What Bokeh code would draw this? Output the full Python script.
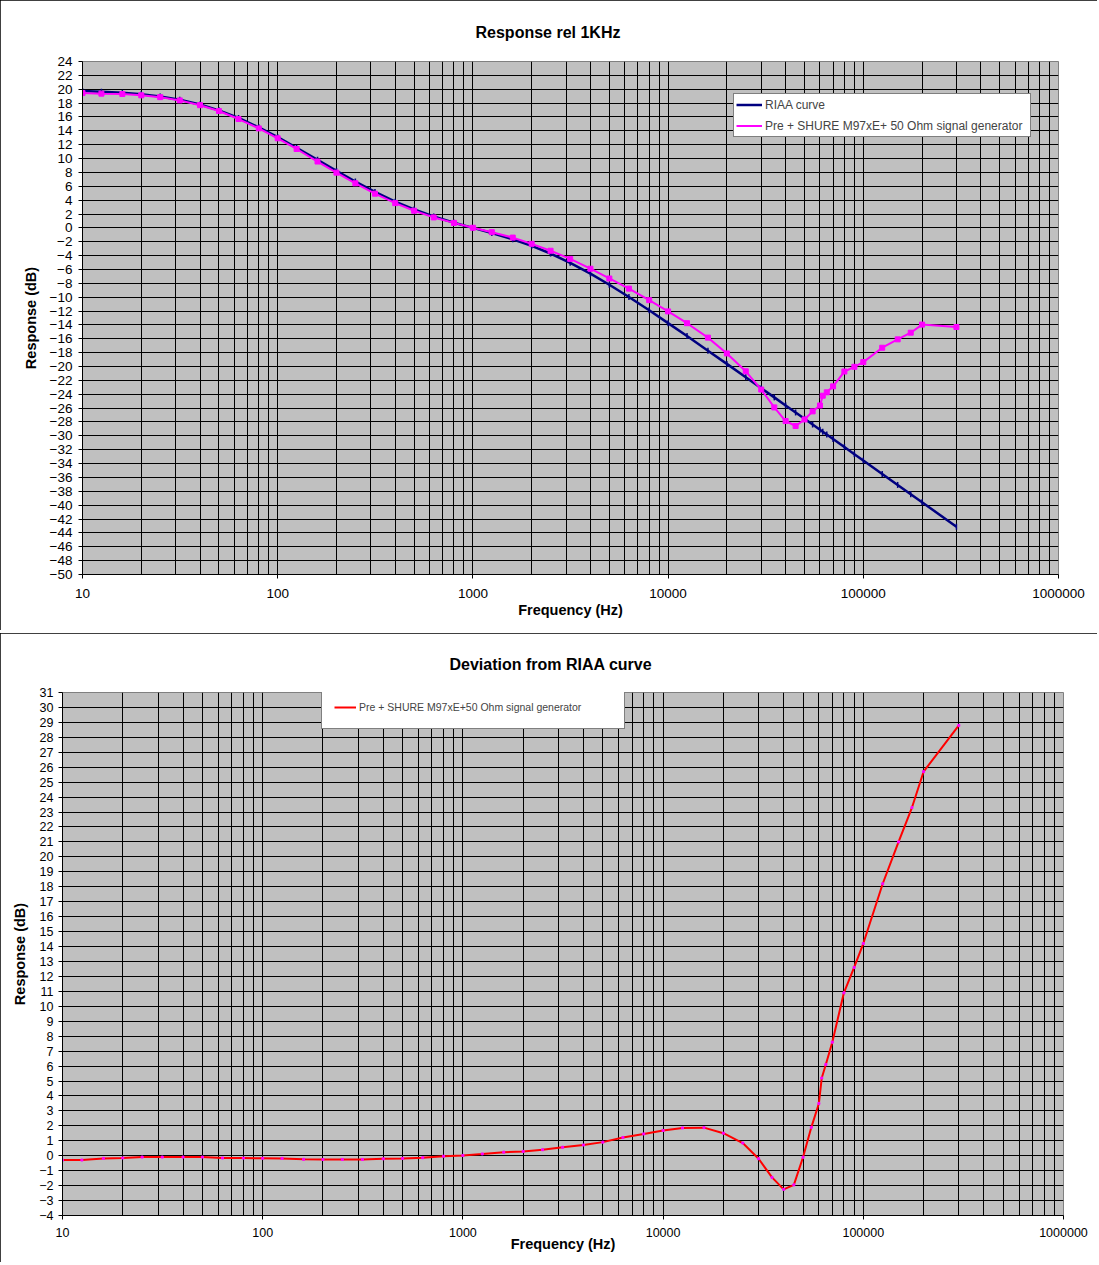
import math
from bokeh.plotting import figure
from bokeh.models import Range1d, FixedTicker, Legend, LegendItem
from bokeh.layouts import column
from bokeh.embed import file_html
from bokeh.resources import INLINE

# ---------------- data ----------------
freq_hz = [10, 12.5, 16, 20, 25, 31.5, 40, 50, 63, 80, 100, 125, 160, 200, 250, 315,
           400, 500, 630, 800, 1000, 1250, 1600, 2000, 2500, 3150, 4000, 5000, 6300,
           8000, 10000, 12500, 16000, 20000, 25000, 30000, 35000, 40000, 45000, 50000,
           55000, 60000, 62000, 65000, 70000, 80000, 90000, 100000, 125000, 150000,
           175000, 200000, 300000]

riaa_db = [19.74, 19.65, 19.49, 19.27, 18.95, 18.48, 17.79, 16.95, 15.85, 14.51, 13.09,
           11.56, 9.81, 8.22, 6.68, 5.18, 3.78, 2.65, 1.64, 0.75, 0.0, -0.74, -1.64,
           -2.59, -3.70, -5.04, -6.61, -8.21, -9.98, -11.89, -13.74, -15.61, -17.71,
           -19.62, -21.54, -23.12, -24.45, -25.61, -26.63, -27.54, -28.37, -29.12,
           -29.41, -29.82, -30.46, -31.62, -32.64, -33.56, -35.49, -37.08, -38.42,
           -39.58, -43.10]

measured_db = [19.45, 19.36, 19.31, 19.12, 18.86, 18.39, 17.70, 16.86, 15.70, 14.35,
               12.92, 11.38, 9.57, 7.97, 6.43, 4.93, 3.57, 2.47, 1.51, 0.72, 0.02,
               -0.62, -1.40, -2.30, -3.30, -4.47, -5.89, -7.30, -8.76, -10.43, -12.05,
               -13.75, -15.83, -18.11, -20.69, -23.32, -25.90, -27.86, -28.58, -27.64,
               -26.47, -25.62, -24.21, -23.72, -22.86, -20.72, -20.04, -19.36, -17.29,
               -16.08, -15.12, -13.95, -14.30]

deviation_db = [-0.29, -0.29, -0.18, -0.15, -0.09, -0.09, -0.09, -0.09, -0.15, -0.16,
                -0.17, -0.18, -0.24, -0.25, -0.25, -0.25, -0.21, -0.18, -0.13, -0.03,
                0.02, 0.12, 0.24, 0.29, 0.40, 0.57, 0.72, 0.91, 1.22, 1.46, 1.69, 1.86,
                1.88, 1.51, 0.85, -0.20, -1.45, -2.25, -1.95, -0.10, 1.90, 3.50, 5.20,
                6.10, 7.60, 10.90, 12.60, 14.20, 18.20, 21.00, 23.30, 25.70, 28.80]

x_major = [10, 100, 1000, 10000, 100000, 1000000]
x_major_labels = ["10", "100", "1000", "10000", "100000", "1000000"]
x_minor = [m * d for d in [10, 100, 1000, 10000, 100000] for m in range(2, 10)]
top_y_ticks = list(range(-50, 25, 2))
bottom_y_ticks = list(range(-4, 32, 1))

FONT = "Liberation Sans"
PLOT_BG = "#C0C0C0"


def style(p, yticks, tick_size, x_lab_standoff, x_title_standoff,
          y_lab_standoff, y_title_standoff, title_standoff):
    p.background_fill_color = PLOT_BG
    p.border_fill_color = "white"
    p.outline_line_color = "#808080"
    p.outline_line_width = 1
    xt = FixedTicker(ticks=x_major, minor_ticks=x_minor)
    yt = FixedTicker(ticks=yticks, minor_ticks=[])
    p.xaxis.ticker = xt
    p.yaxis.ticker = yt
    p.xgrid.ticker = xt
    p.ygrid.ticker = yt
    p.xaxis.major_label_overrides = {v: s for v, s in zip(x_major, x_major_labels)}
    for g in (p.xgrid, p.ygrid):
        g.grid_line_color = "black"
        g.grid_line_width = 1
        g.grid_line_alpha = 1.0
    p.xgrid.minor_grid_line_color = "black"
    p.xgrid.minor_grid_line_width = 1
    for ax in (p.xaxis, p.yaxis):
        ax.axis_line_color = "black"
        ax.major_tick_line_color = "black"
        ax.major_tick_in = 0
        ax.major_tick_out = 4
        ax.minor_tick_line_color = None
        ax.major_label_text_font = FONT
        ax.major_label_text_font_size = tick_size
        ax.major_label_text_color = "black"
        ax.axis_label_text_font = FONT
        ax.axis_label_text_font_style = "bold"
        ax.axis_label_text_font_size = "14.5px"
        ax.axis_label_text_color = "black"
    p.xaxis.major_label_standoff = x_lab_standoff
    p.xaxis.axis_label_standoff = x_title_standoff
    p.yaxis.major_label_standoff = y_lab_standoff
    p.yaxis.axis_label_standoff = y_title_standoff
    p.xaxis.axis_label = "Frequency (Hz)"
    p.yaxis.axis_label = "Response (dB)"
    p.title.text_font = FONT
    p.title.text_font_style = "bold"
    p.title.text_font_size = "16px"
    p.title.text_color = "black"
    p.title.align = "left"
    p.title.standoff = title_standoff
    p.styles = {"outline": "1px solid black", "outline-offset": "-1px"}


# ---------------- top chart ----------------
p1 = figure(width=1097, height=630, x_axis_type="log",
            x_range=Range1d(10, 1000000), y_range=Range1d(-50, 24),
            output_backend="svg", toolbar_location=None,
            min_border_left=82, min_border_right=39, min_border_top=61,
            min_border_bottom=56, title="Response rel 1KHz")
p1.frame_align = False
style(p1, top_y_ticks, "13.5px", 10, 1, 6, 8, 41)
p1.title.offset = 393

r_riaa_l = p1.line(freq_hz, riaa_db, line_color="#000080", line_width=2.5)
r_riaa_m = p1.scatter(freq_hz, riaa_db, marker="dash", angle=math.pi / 2, size=6,
                      line_color="#000080", line_width=1.5)
r_meas_l = p1.line(freq_hz, measured_db, line_color="#FF00FF", line_width=2)
r_meas_m = p1.scatter(freq_hz, measured_db, marker="square", size=5,
                      fill_color="#FF00FF", line_color="#FF00FF")

leg1 = Legend(items=[
    LegendItem(label="RIAA curve", renderers=[r_riaa_l]),
    LegendItem(label="Pre + SHURE M97xE+ 50 Ohm signal generator",
               renderers=[r_meas_l]),
], location=(651, 437))
leg1.label_text_font = FONT
leg1.label_text_font_size = "12px"
leg1.label_height = 17
leg1.glyph_height = 17
leg1.glyph_width = 26
leg1.label_standoff = 3
leg1.label_width = 263
leg1.spacing = 4
leg1.padding = 2
leg1.margin = 0
leg1.border_line_color = "black"
leg1.border_line_width = 1
leg1.background_fill_color = "white"
leg1.background_fill_alpha = 1.0
p1.add_layout(leg1, "center")

# ---------------- bottom chart ----------------
p2 = figure(width=1097, height=629, x_axis_type="log",
            x_range=Range1d(10, 1000000), y_range=Range1d(-4, 31),
            output_backend="svg", toolbar_location=None,
            min_border_left=62, min_border_right=34, min_border_top=59,
            min_border_bottom=47, title="Deviation from RIAA curve")
p2.frame_align = False
style(p2, bottom_y_ticks, "12.5px", 8, -4, 5, 8, 39)
p2.title.offset = 387

r_dev_l = p2.line(freq_hz, deviation_db, line_color="#FF0000", line_width=2)
r_dev_m = p2.scatter(freq_hz, deviation_db, marker="square", size=2,
                     fill_color="#FF00FF", line_color="#FF00FF")

leg2 = Legend(items=[
    LegendItem(label="Pre + SHURE M97xE+50 Ohm signal generator",
               renderers=[r_dev_l]),
], location=(259, 486))
leg2.label_text_font = FONT
leg2.label_text_font_size = "10.5px"
leg2.label_height = 18
leg2.glyph_height = 18
leg2.glyph_width = 22
leg2.label_standoff = 3
leg2.label_width = 253
leg2.padding = 12
leg2.margin = 0
leg2.border_line_color = "black"
leg2.border_line_width = 1
leg2.background_fill_color = "white"
leg2.background_fill_alpha = 1.0
p2.add_layout(leg2, "center")

layout = column(p1, p2, spacing=3)
open("out.html", "w").write(file_html(layout, INLINE))
